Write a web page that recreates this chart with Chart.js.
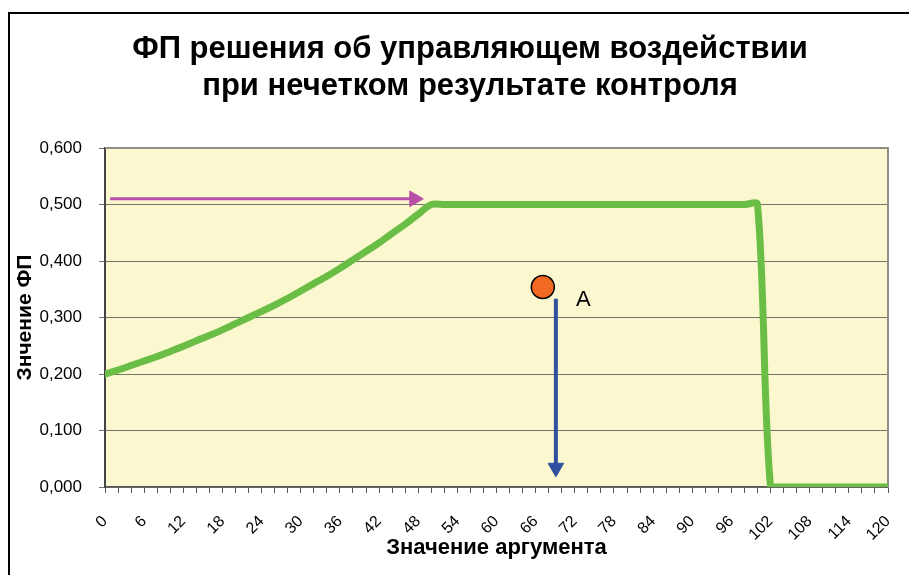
<!DOCTYPE html>
<html>
<head>
<meta charset="utf-8">
<script src="https://cdn.jsdelivr.net/npm/chart.js@4"></script>
<style>
  body { margin: 0; background: #fff; overflow: hidden; }
  #frame { position: absolute; left: 8px; top: 12px; width: 1000px; height: 1000px;
           border-left: 2px solid #000; border-top: 2px solid #000; }
  #wrap { position: absolute; left: 0; top: 0; width: 909px; height: 575px; }
</style>
</head>
<body>
<div id="frame"></div>
<div id="wrap"><canvas id="fpChart" width="909" height="575"></canvas></div>
<script>
// chart data
const titleLines = ['ФП решения об управляющем воздействии', 'при нечетком результате контроля'];
const xTitle = 'Значение аргумента';
const yTitle = 'Знчение ФП';

const argValues = [0, 2, 4, 6, 8, 10, 12, 14, 16, 18, 20, 22, 24, 26, 28, 30, 32, 34, 36, 38, 40,
  42, 44, 46, 48, 50, 52, 54, 56, 58, 60, 62, 64, 66, 68, 70, 72, 74, 76, 78, 80,
  82, 84, 86, 88, 90, 92, 94, 96, 98, 100, 102, 104, 106, 108, 110, 112, 114, 116, 118, 120];
const fpValues = [0.200, 0.207, 0.215, 0.223, 0.231, 0.240, 0.249, 0.259, 0.268, 0.278, 0.289,
  0.300, 0.311, 0.322, 0.334, 0.347, 0.360, 0.373, 0.387, 0.402, 0.417,
  0.432, 0.449, 0.465, 0.483, 0.500, 0.500, 0.500, 0.500, 0.500, 0.500,
  0.500, 0.500, 0.500, 0.500, 0.500, 0.500, 0.500, 0.500, 0.500, 0.500,
  0.500, 0.500, 0.500, 0.500, 0.500, 0.500, 0.500, 0.500, 0.500, 0.500,
  0, 0, 0, 0, 0, 0, 0, 0, 0, 0];

// annotations
const hArrowX = [0.8, 47.4];
const hArrowY = [0.51, 0.51];
const vArrowX = [69.1, 69.1];
const vArrowY = [0.333, 0.034];
const pointAX = [67.1];
const pointAY = [0.354];
const labelA = { text: 'A', x: 73.3, y: 0.331 };

const toXY = (xs, ys) => xs.map((x, i) => ({ x: x, y: ys[i] }));

const FONT = "'Liberation Sans', Arial, sans-serif";

const decor = {
    id: 'decor',
    beforeDraw(chart) {
        const { ctx, chartArea: a } = chart;
        ctx.save();
        ctx.fillStyle = '#fbf8d0';
        ctx.fillRect(a.left, a.top, a.right - a.left, a.bottom - a.top);
        ctx.restore();
    },
    beforeDatasetsDraw(chart) {
        const { ctx, chartArea: a } = chart;
        ctx.save();
        ctx.strokeStyle = '#8f8f86';
        ctx.lineWidth = 2;
        ctx.beginPath();
        ctx.moveTo(a.left, a.top);
        ctx.lineTo(a.right, a.top);
        ctx.lineTo(a.right, a.bottom);
        ctx.stroke();
        ctx.restore();
    },
    afterDraw(chart) {
        const ctx = chart.ctx;
        const xs = chart.scales.x, ys = chart.scales.y;
        ctx.save();
        ctx.fillStyle = '#000';
        ctx.textAlign = 'center';
        ctx.textBaseline = 'middle';
        ctx.font = 'bold 31px ' + FONT;
        ctx.fillText(titleLines[0], 470, 49);
        ctx.fillText(titleLines[1], 470, 86);
        ctx.font = '22px ' + FONT;
        ctx.fillText(labelA.text, xs.getPixelForValue(labelA.x), ys.getPixelForValue(labelA.y));
        ctx.restore();
    }
};

const ctx = document.getElementById('fpChart').getContext('2d');
new Chart(ctx, {
    type: 'line',
    data: {
        datasets: [
            {
                data: toXY(pointAX, pointAY),
                showLine: false,
                pointRadius: 11.5,
                pointBackgroundColor: '#f26a21',
                pointBorderColor: '#000',
                pointBorderWidth: 1.5,
            },
            {
                data: toXY(vArrowX, vArrowY),
                borderColor: '#2f4f9f',
                borderWidth: 4,
                pointRadius: [0, 9],
                pointStyle: 'triangle',
                rotation: 180,
                pointBackgroundColor: '#2f4f9f',
                pointBorderColor: '#2f4f9f',
                pointBorderWidth: 1,
            },
            {
                data: toXY(hArrowX, hArrowY),
                borderColor: '#b84fa6',
                borderWidth: 3,
                pointRadius: [0, 9],
                pointStyle: 'triangle',
                rotation: 90,
                pointBackgroundColor: '#b84fa6',
                pointBorderColor: '#b84fa6',
                pointBorderWidth: 1,
            },
            {
                data: toXY(argValues, fpValues),
                borderColor: '#6abd45',
                borderWidth: 7,
                tension: 0.3,
                pointRadius: 0,
                borderCapStyle: 'round',
                borderJoinStyle: 'round',
            },
        ],
    },
    options: {
        responsive: false,
        animation: false,
        layout: { padding: { left: 9, right: 21, top: 148, bottom: 10 } },
        plugins: {
            legend: { display: false },
            tooltip: { enabled: false },
        },
        scales: {
            x: {
                type: 'linear',
                min: 0,
                max: 120,
                afterFit: (s) => { s.height = 78; s.paddingLeft = 0; s.paddingRight = 0; },
                border: { display: true, color: '#555', width: 1.5 },
                grid: { drawOnChartArea: false, drawTicks: true, tickLength: 6, color: '#555' },
                ticks: {
                    stepSize: 2,
                    autoSkip: false,
                    maxTicksLimit: 200,
                    minRotation: 45,
                    maxRotation: 45,
                    padding: 19,
                    color: '#000',
                    font: { family: FONT, size: 16 },
                    callback: (v) => (v % 6 === 0 ? String(v) : ''),
                },
                title: {
                    display: true,
                    text: xTitle,
                    color: '#000',
                    font: { family: FONT, size: 22, weight: 'bold' },
                },
            },
            y: {
                min: 0,
                max: 0.6,
                afterFit: (s) => { s.width = 96; },
                border: { display: true, color: '#444', width: 2 },
                grid: { color: '#76746a', lineWidth: 1, tickLength: 6 },
                ticks: {
                    stepSize: 0.1,
                    padding: 17,
                    color: '#000',
                    font: { family: FONT, size: 17 },
                    callback: (v) => v.toFixed(3).replace('.', ','),
                },
                title: {
                    display: true,
                    text: yTitle,
                    color: '#000',
                    font: { family: FONT, size: 21, weight: 'bold' },
                },
            },
        },
    },
    plugins: [decor],
});
</script>
</body>
</html>
